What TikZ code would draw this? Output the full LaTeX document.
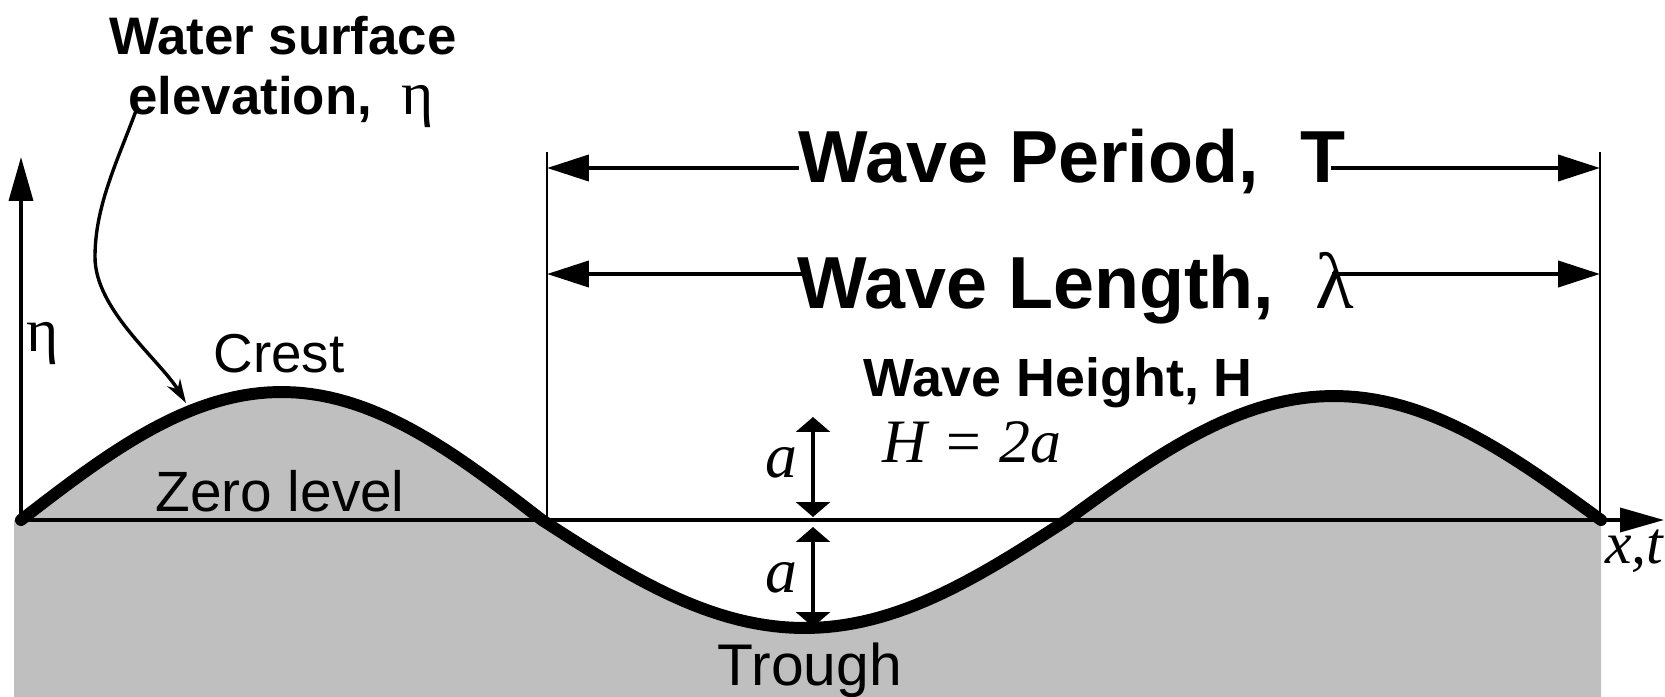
\documentclass[tikz,border=0pt]{standalone}
\usepackage{fontspec}
\setmainfont{Liberation Sans}
\newfontfamily\tms{Liberation Serif}
\usetikzlibrary{arrows.meta}
\definecolor{wavegrey}{RGB}{191,191,191}
\newcommand{\fsz}[1]{\fontsize{#1}{#1}\selectfont}
\tikzset{
  waveline/.style={line width=12, line join=round, line cap=round},
  axisline/.style={line width=3.6, -{Triangle[length=44,width=24]}},
  dimline/.style={line width=2.2},
  spanarrow/.style={line width=4, -{Triangle[length=42,width=26]}},
  harrow/.style={line width=3.2, {Triangle[length=15,width=34]}-{Triangle[length=15,width=34]}},
  leader/.style={line width=3.4, -{Stealth[length=24,width=15]}},
  lbl/.style={inner sep=0, anchor=base},
}
\begin{document}
\begin{tikzpicture}[x=1bp,y=-1bp]
\useasboundingbox (0,0) rectangle (1665,697);
% grey water body
\fill[wavegrey] (14,697) -- (14,520) -- (21,520)
  -- plot[domain=21:542, samples=60] (\x, {520-128*sin((\x-21)*0.345489)})
  -- plot[domain=542:1067, samples=60] (\x, {520+108*sin((\x-542)*0.342857)})
  -- plot[domain=1067:1601, samples=60] (\x, {520-124*sin((\x-1067)*0.337079)})
  -- (1601,697) -- cycle;
% coordinates
\coordinate (O) at (21,520);
\coordinate (Ytip) at (21,157);
\coordinate (Xtip) at (1664,520);
\coordinate (L1) at (547,152);
\coordinate (L0) at (547,520);
\coordinate (R1) at (1600,152);
\coordinate (R0) at (1600,520);
\coordinate (PL) at (547,168);
\coordinate (PR) at (1600,168);
\coordinate (WL) at (547,274);
\coordinate (WR) at (1600,274);
\coordinate (Atop) at (813,417);
\coordinate (Amid1) at (813,517);
\coordinate (Amid2) at (813,527);
\coordinate (Abot) at (813,627);
\coordinate (ls) at (137,108);
\coordinate (lm) at (95,257);
\coordinate (lt) at (186,403);
% axes
\draw[axisline] (O) -- (Xtip);
\draw[axisline] (O) -- (Ytip);
% vertical dimension lines
\draw[dimline] (L1) -- (L0);
\draw[dimline] (R1) -- (R0);
% wave
\draw[waveline] plot[domain=21:542, samples=60] (\x, {520-128*sin((\x-21)*0.345489)})
  -- plot[domain=542:1067, samples=60] (\x, {520+108*sin((\x-542)*0.342857)})
  -- plot[domain=1067:1601, samples=60] (\x, {520-124*sin((\x-1067)*0.337079)});
% texts
\node[lbl] (ws) at (283,55) {\fsz{53}\bfseries Water surface};
\node[lbl] (el) at (281,115) {\fsz{53}\bfseries elevation,\ \ {\tms\mdseries\fsz{62}η}};
\node[lbl, anchor=base west] (eta) at (26,351) {\fsz{62}\tms η};
\node[lbl] (crest) at (279,372) {\fsz{55}Crest};
\node[lbl] (zero) at (280,511) {\fsz{57}Zero level};
\node[lbl] (trough) at (810,685) {\fsz{59}Trough};
\node[lbl] (wp) at (1072,182) {\fsz{74}\bfseries Wave Period,\ \ T};
\node[lbl] (wl) at (1076,308) {\fsz{74}\bfseries Wave Length,\ \ {\tms\mdseries\fsz{80}λ}};
\node[lbl] (wh) at (1058,396) {\fsz{54}\bfseries Wave Height, H};
\node[lbl, anchor=base west] (h2a) at (882,462) {\fsz{62}\tms\itshape H = 2a};
\node[lbl] (a1) at (781,477) {\fsz{64}\tms\itshape a};
\node[lbl] (a2) at (781,592) {\fsz{64}\tms\itshape a};
\node[lbl, anchor=base west] (xt) at (1605,563) {\fsz{60}\tms\itshape x,t};
% span arrows (broken by their labels)
\draw[spanarrow] (wp.west |- PL) -- (PL);
\draw[spanarrow] ([xshift=-14]wp.east |- PR) -- (PR);
\draw[spanarrow] ([xshift=6]wl.west |- WL) -- (WL);
\draw[spanarrow] ([xshift=-22]wl.east |- WR) -- (WR);
% amplitude arrows
\draw[harrow] (Atop) -- (Amid1);
\draw[harrow] (Amid2) -- (Abot);
% leader
\draw[leader] (ls) .. controls (118,160) and (95,205) .. (lm)
  .. controls (95,310) and (160,360) .. (lt);
\end{tikzpicture}
\end{document}
